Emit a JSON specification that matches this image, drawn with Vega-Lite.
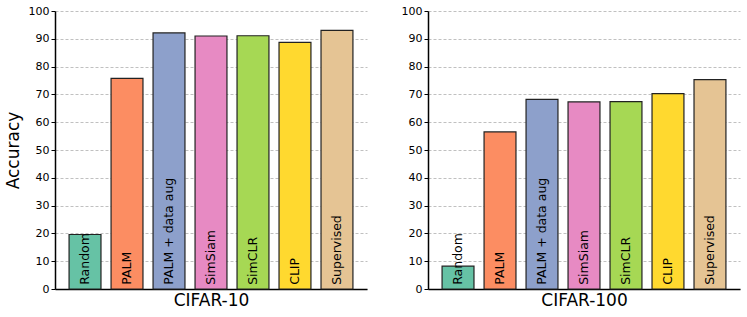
{
  "$schema": "https://vega.github.io/schema/vega-lite/v6.json",
  "padding": {"left": 4, "top": 5, "right": 5, "bottom": 5},
  "background": "white",
  "config": {
    "font": "DejaVu Sans",
    "view": {"stroke": null},
    "axis": {"labelFont": "DejaVu Sans", "titleFont": "DejaVu Sans", "labelColor": "black", "titleColor": "black", "domainColor": "black", "tickColor": "black", "titleFontWeight": "normal"},
    "concat": {"spacing": 34}
  },
  "datasets": {
    "acc": [
      {"dataset": "CIFAR-10", "method": "Random", "accuracy": 19.6},
      {"dataset": "CIFAR-10", "method": "PALM", "accuracy": 75.8},
      {"dataset": "CIFAR-10", "method": "PALM + data aug", "accuracy": 92.1},
      {"dataset": "CIFAR-10", "method": "SimSiam", "accuracy": 91.0},
      {"dataset": "CIFAR-10", "method": "SimCLR", "accuracy": 91.1},
      {"dataset": "CIFAR-10", "method": "CLIP", "accuracy": 88.7},
      {"dataset": "CIFAR-10", "method": "Supervised", "accuracy": 93.0},
      {"dataset": "CIFAR-100", "method": "Random", "accuracy": 8.2},
      {"dataset": "CIFAR-100", "method": "PALM", "accuracy": 56.5},
      {"dataset": "CIFAR-100", "method": "PALM + data aug", "accuracy": 68.2},
      {"dataset": "CIFAR-100", "method": "SimSiam", "accuracy": 67.3},
      {"dataset": "CIFAR-100", "method": "SimCLR", "accuracy": 67.4},
      {"dataset": "CIFAR-100", "method": "CLIP", "accuracy": 70.3},
      {"dataset": "CIFAR-100", "method": "Supervised", "accuracy": 75.3}
    ]
  },
  "hconcat": [
    {
      "width": 312, "height": 278,
      "data": {"name": "acc"},
      "transform": [{"filter": "datum.dataset === 'CIFAR-10'"}],
      "encoding": {
        "x": {"field": "method", "type": "nominal", "sort": ["Random", "PALM", "PALM + data aug", "SimSiam", "SimCLR", "CLIP", "Supervised"],
          "scale": {"paddingInner": 0.24, "paddingOuter": 0.335},
          "axis": {"title": "CIFAR-10", "labels": false, "ticks": false, "domainWidth": 1.5, "titleFontSize": 17, "titlePadding": 3}}
      },
      "layer": [
        {
          "mark": {"type": "bar", "stroke": "#222222", "strokeWidth": 1.2},
          "encoding": {
            "y": {"field": "accuracy", "type": "quantitative", "scale": {"domain": [0, 100], "nice": false},
              "axis": {"title": "Accuracy", "values": [0,10,20,30,40,50,60,70,80,90,100], "labelOverlap": false, "labelFontSize": 11, "titleFontSize": 17, "titlePadding": 6, "tickSize": 4, "domainWidth": 1.5, "gridDash": [3, 2], "gridColor": "#b0b0b0", "gridWidth": 0.8}},
            "color": {"field": "method", "type": "nominal", "legend": null,
              "scale": {"domain": ["Random", "PALM", "PALM + data aug", "SimSiam", "SimCLR", "CLIP", "Supervised"], "range": ["#66c2a5", "#fc8d62", "#8da0cb", "#e78ac3", "#a6d854", "#ffd92f", "#e5c494"]}}
          }
        },
        {
          "mark": {"type": "text", "angle": 270, "align": "left", "baseline": "middle", "fontSize": 12.5, "color": "black"},
          "encoding": {
            "y": {"datum": 1.5, "type": "quantitative", "axis": {"title": "Accuracy", "values": [0,10,20,30,40,50,60,70,80,90,100], "labelOverlap": false, "labelFontSize": 11, "titleFontSize": 17, "titlePadding": 6, "tickSize": 4, "domainWidth": 1.5, "gridDash": [3, 2], "gridColor": "#b0b0b0", "gridWidth": 0.8}},
            "text": {"field": "method"}
          }
        }
      ]
    },
    {
      "width": 312, "height": 278,
      "data": {"name": "acc"},
      "transform": [{"filter": "datum.dataset === 'CIFAR-100'"}],
      "encoding": {
        "x": {"field": "method", "type": "nominal", "sort": ["Random", "PALM", "PALM + data aug", "SimSiam", "SimCLR", "CLIP", "Supervised"],
          "scale": {"paddingInner": 0.24, "paddingOuter": 0.335},
          "axis": {"title": "CIFAR-100", "labels": false, "ticks": false, "domainWidth": 1.5, "titleFontSize": 17, "titlePadding": 3}}
      },
      "layer": [
        {
          "mark": {"type": "bar", "stroke": "#222222", "strokeWidth": 1.2},
          "encoding": {
            "y": {"field": "accuracy", "type": "quantitative", "scale": {"domain": [0, 100], "nice": false},
              "axis": {"title": null, "values": [0,10,20,30,40,50,60,70,80,90,100], "labelOverlap": false, "labelFontSize": 11, "tickSize": 4, "domainWidth": 1.5, "gridDash": [3, 2], "gridColor": "#b0b0b0", "gridWidth": 0.8}},
            "color": {"field": "method", "type": "nominal", "legend": null,
              "scale": {"domain": ["Random", "PALM", "PALM + data aug", "SimSiam", "SimCLR", "CLIP", "Supervised"], "range": ["#66c2a5", "#fc8d62", "#8da0cb", "#e78ac3", "#a6d854", "#ffd92f", "#e5c494"]}}
          }
        },
        {
          "mark": {"type": "text", "angle": 270, "align": "left", "baseline": "middle", "fontSize": 12.5, "color": "black"},
          "encoding": {
            "y": {"datum": 1.5, "type": "quantitative", "axis": {"title": null, "values": [0,10,20,30,40,50,60,70,80,90,100], "labelOverlap": false, "labelFontSize": 11, "tickSize": 4, "domainWidth": 1.5, "gridDash": [3, 2], "gridColor": "#b0b0b0", "gridWidth": 0.8}},
            "text": {"field": "method"}
          }
        }
      ]
    }
  ]
}
